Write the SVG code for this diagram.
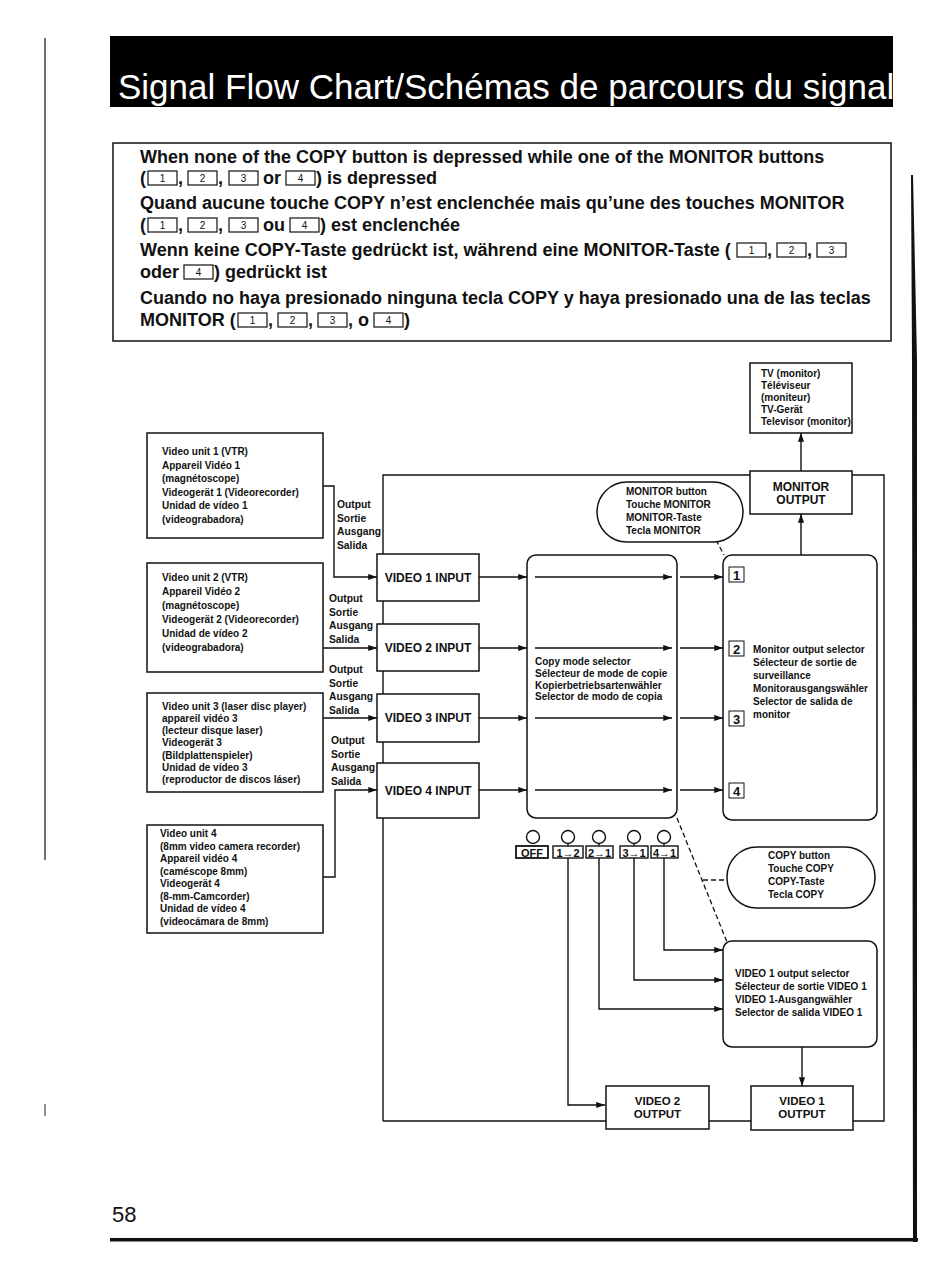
<svg xmlns="http://www.w3.org/2000/svg" width="950" height="1280" viewBox="0 0 950 1280">
<defs>
<marker id="ah" viewBox="0 0 10 8" refX="10" refY="4" markerWidth="9" markerHeight="7" orient="auto" markerUnits="userSpaceOnUse"><path d="M0,0.5 L10,4 L0,7.5 z" fill="#111"/></marker>
<clipPath id="barclip"><rect x="110" y="36" width="783" height="71"/></clipPath>
</defs>
<style>
text { font-family: "Liberation Sans", Arial, Helvetica, sans-serif; fill: #111; }
.hd { font-size: 18px; font-weight: bold; }
.kb { fill: none; stroke: #111; stroke-width: 1.2; }
.kn { font-size: 10px; text-anchor: middle; }
.box { fill: #fff; stroke: #111; stroke-width: 1.5; }
.sm { font-size: 10px; font-weight: bold; }
.lbl { font-size: 10.3px; font-weight: bold; }
.bl { font-size: 12px; font-weight: bold; text-anchor: middle; }
.bo { font-size: 11.5px; font-weight: bold; text-anchor: middle; }
.ln { fill: none; stroke: #111; stroke-width: 1.4; }
.arr { marker-end: url(#ah); }
.dash { fill: none; stroke: #111; stroke-width: 1.3; stroke-dasharray: 5 3; }
.nb { fill: none; stroke: #111; stroke-width: 1; }
.nt { font-size: 13px; font-weight: bold; text-anchor: middle; }
.btn { fill: #fff; stroke: #111; stroke-width: 1.4; }
.bt { font-size: 11px; font-weight: bold; text-anchor: middle; }
</style>
<rect x="0" y="0" width="950" height="1280" fill="#fff"/>

<g id="page">
<line x1="45" y1="38" x2="45" y2="860" stroke="#222" stroke-width="1.3"/>
<line x1="45" y1="1104" x2="45" y2="1116" stroke="#444" stroke-width="1.2"/>
<polygon points="911,175 913,175 917,360 917,1242 913,1242 912,360" fill="#111"/>
<rect x="110" y="1238" width="808" height="3.5" fill="#111"/>
<text x="112" y="1222" font-size="22">58</text>
</g>

<g id="title">
<rect x="110" y="36" width="783" height="71" fill="#000"/>
<text x="118" y="99" font-size="35" clip-path="url(#barclip)" style="fill:#fff">Signal Flow Chart/Schémas de parcours du signal</text>
</g>

<g id="note">
<rect x="113" y="143" width="778" height="198" fill="none" stroke="#111" stroke-width="1.5"/>
<text class="hd" x="140" y="163">When none of the COPY button is depressed while one of the MONITOR buttons</text>
<text class="hd" x="140" y="184">(</text>
<rect class="kb" x="148" y="171" width="29" height="14"/><text class="kn" x="162.5" y="182">1</text>
<text class="hd" x="178" y="184">,</text>
<rect class="kb" x="188" y="171" width="29" height="14"/><text class="kn" x="202.5" y="182">2</text>
<text class="hd" x="218" y="184">,</text>
<rect class="kb" x="229" y="171" width="29" height="14"/><text class="kn" x="243.5" y="182">3</text>
<text class="hd" x="263" y="184">or</text>
<rect class="kb" x="286" y="171" width="29" height="14"/><text class="kn" x="300.5" y="182">4</text>
<text class="hd" x="316" y="184">) is depressed</text>

<text class="hd" x="140" y="209">Quand aucune touche COPY n’est enclenchée mais qu’une des touches MONITOR</text>
<text class="hd" x="140" y="231">(</text>
<rect class="kb" x="148" y="218" width="29" height="14"/><text class="kn" x="162.5" y="229">1</text>
<text class="hd" x="178" y="231">,</text>
<rect class="kb" x="188" y="218" width="29" height="14"/><text class="kn" x="202.5" y="229">2</text>
<text class="hd" x="218" y="231">,</text>
<rect class="kb" x="229" y="218" width="29" height="14"/><text class="kn" x="243.5" y="229">3</text>
<text class="hd" x="263" y="231">ou</text>
<rect class="kb" x="290" y="218" width="29" height="14"/><text class="kn" x="304.5" y="229">4</text>
<text class="hd" x="320" y="231">) est enclenchée</text>

<text class="hd" x="140" y="256">Wenn keine COPY-Taste gedrückt ist, während eine MONITOR-Taste (</text>
<rect class="kb" x="737" y="243" width="29" height="14"/><text class="kn" x="751.5" y="254">1</text>
<text class="hd" x="767" y="256">,</text>
<rect class="kb" x="777" y="243" width="29" height="14"/><text class="kn" x="791.5" y="254">2</text>
<text class="hd" x="807" y="256">,</text>
<rect class="kb" x="817" y="243" width="29" height="14"/><text class="kn" x="831.5" y="254">3</text>
<text class="hd" x="140" y="278">oder</text>
<rect class="kb" x="184" y="265" width="29" height="14"/><text class="kn" x="198.5" y="276">4</text>
<text class="hd" x="214" y="278">) gedrückt ist</text>

<text class="hd" x="140" y="304">Cuando no haya presionado ninguna tecla COPY y haya presionado una de las teclas</text>
<text class="hd" x="140" y="326">MONITOR (</text>
<rect class="kb" x="238" y="313" width="29" height="14"/><text class="kn" x="252.5" y="324">1</text>
<text class="hd" x="268" y="326">,</text>
<rect class="kb" x="278" y="313" width="29" height="14"/><text class="kn" x="292.5" y="324">2</text>
<text class="hd" x="308" y="326">,</text>
<rect class="kb" x="318" y="313" width="29" height="14"/><text class="kn" x="332.5" y="324">3</text>
<text class="hd" x="348" y="326">, o</text>
<rect class="kb" x="374" y="313" width="29" height="14"/><text class="kn" x="388.5" y="324">4</text>
<text class="hd" x="404" y="326">)</text>
</g>

<g id="connectors">
<polyline class="ln" points="383,1121 383,475 884,475 884,1121 383,1121"/>
<polyline class="ln arr" points="323,486 334,486 334,577 377,577"/>
<line class="ln arr" x1="323" y1="648" x2="377" y2="648"/>
<line class="ln arr" x1="323" y1="718" x2="377" y2="718"/>
<polyline class="ln arr" points="323,877 335,877 335,790 377,790"/>
<line class="ln arr" x1="479" y1="577" x2="527" y2="577"/>
<line class="ln arr" x1="479" y1="648" x2="527" y2="648"/>
<line class="ln arr" x1="479" y1="718" x2="527" y2="718"/>
<line class="ln arr" x1="479" y1="790" x2="527" y2="790"/>
<line class="ln arr" x1="535" y1="577" x2="672" y2="577"/>
<line class="ln arr" x1="535" y1="648" x2="672" y2="648"/>
<line class="ln arr" x1="535" y1="718" x2="672" y2="718"/>
<line class="ln arr" x1="535" y1="790" x2="672" y2="790"/>
<line class="ln arr" x1="680" y1="577" x2="723" y2="577"/>
<line class="ln arr" x1="680" y1="648" x2="723" y2="648"/>
<line class="ln arr" x1="680" y1="718" x2="723" y2="718"/>
<line class="ln arr" x1="680" y1="790" x2="723" y2="790"/>
<line class="ln arr" x1="801" y1="555" x2="801" y2="514"/>
<line class="ln arr" x1="801" y1="471" x2="801" y2="433"/>
<polyline class="ln arr" points="568,858 568,1105 605,1105"/>
<polyline class="ln arr" points="599,858 599,1009 723,1009"/>
<polyline class="ln arr" points="634,858 634,980 723,980"/>
<polyline class="ln arr" points="664,858 664,950 723,950"/>
<line class="ln arr" x1="802" y1="1047" x2="802" y2="1086"/>
<line class="dash" x1="677" y1="818" x2="727" y2="942"/>
<line class="dash" x1="703" y1="880" x2="727" y2="880"/>
<line class="dash" x1="716" y1="540" x2="724" y2="555"/>
</g>

<g id="video-unit-1">
<rect class="box" x="147" y="433" width="176" height="105"/>
<text class="sm" x="162" y="455">Video unit 1 (VTR)</text>
<text class="sm" x="162" y="468.5">Appareil Vidéo 1</text>
<text class="sm" x="162" y="482">(magnétoscope)</text>
<text class="sm" x="162" y="495.5">Videogerät 1 (Videorecorder)</text>
<text class="sm" x="162" y="509">Unidad de vídeo 1</text>
<text class="sm" x="162" y="522.5">(videograbadora)</text>
</g>
<g id="video-unit-2">
<rect class="box" x="147" y="563" width="176" height="109"/>
<text class="sm" x="162" y="581">Video unit 2 (VTR)</text>
<text class="sm" x="162" y="595">Appareil Vidéo 2</text>
<text class="sm" x="162" y="609">(magnétoscope)</text>
<text class="sm" x="162" y="623">Videogerät 2 (Videorecorder)</text>
<text class="sm" x="162" y="637">Unidad de vídeo 2</text>
<text class="sm" x="162" y="651">(videograbadora)</text>
</g>
<g id="video-unit-3">
<rect class="box" x="147" y="693" width="176" height="99"/>
<text class="sm" x="162" y="710">Video unit 3 (laser disc player)</text>
<text class="sm" x="162" y="722">appareil vidéo 3</text>
<text class="sm" x="162" y="734">(lecteur disque laser)</text>
<text class="sm" x="162" y="746">Videogerät 3</text>
<text class="sm" x="162" y="759">(Bildplattenspieler)</text>
<text class="sm" x="162" y="771">Unidad de vídeo 3</text>
<text class="sm" x="162" y="783">(reproductor de discos láser)</text>
</g>
<g id="video-unit-4">
<rect class="box" x="147" y="825" width="176" height="108"/>
<text class="sm" x="160" y="837">Video unit 4</text>
<text class="sm" x="160" y="850">(8mm video camera recorder)</text>
<text class="sm" x="160" y="862">Appareil vidéo 4</text>
<text class="sm" x="160" y="875">(caméscope 8mm)</text>
<text class="sm" x="160" y="887">Videogerät 4</text>
<text class="sm" x="160" y="900">(8-mm-Camcorder)</text>
<text class="sm" x="160" y="912">Unidad de vídeo 4</text>
<text class="sm" x="160" y="925">(videocámara de 8mm)</text>
</g>

<g id="output-labels">
<text class="lbl" x="337" y="508">Output</text>
<text class="lbl" x="337" y="521.5">Sortie</text>
<text class="lbl" x="337" y="535">Ausgang</text>
<text class="lbl" x="337" y="548.5">Salida</text>
<text class="lbl" x="329" y="602">Output</text>
<text class="lbl" x="329" y="615.5">Sortie</text>
<text class="lbl" x="329" y="629">Ausgang</text>
<text class="lbl" x="329" y="642.5">Salida</text>
<text class="lbl" x="329" y="673">Output</text>
<text class="lbl" x="329" y="686.5">Sortie</text>
<text class="lbl" x="329" y="700">Ausgang</text>
<text class="lbl" x="329" y="713.5">Salida</text>
<text class="lbl" x="331" y="744">Output</text>
<text class="lbl" x="331" y="757.5">Sortie</text>
<text class="lbl" x="331" y="771">Ausgang</text>
<text class="lbl" x="331" y="784.5">Salida</text>
</g>

<g id="video-1-input"><rect class="box" x="377" y="554" width="102" height="47"/><text class="bl" x="428" y="582">VIDEO 1 INPUT</text></g>
<g id="video-2-input"><rect class="box" x="377" y="624" width="102" height="47"/><text class="bl" x="428" y="652">VIDEO 2 INPUT</text></g>
<g id="video-3-input"><rect class="box" x="377" y="694" width="102" height="48"/><text class="bl" x="428" y="722">VIDEO 3 INPUT</text></g>
<g id="video-4-input"><rect class="box" x="377" y="763" width="102" height="55"/><text class="bl" x="428" y="795">VIDEO 4 INPUT</text></g>

<g id="copy-mode-selector">
<rect x="527" y="555" width="150" height="263" rx="9" fill="none" stroke="#111" stroke-width="1.5"/>
<text class="sm" x="535" y="665">Copy mode selector</text>
<text class="sm" x="535" y="677">Sélecteur de mode de copie</text>
<text class="sm" x="535" y="688.5">Kopierbetriebsartenwähler</text>
<text class="sm" x="535" y="700">Selector de modo de copia</text>
</g>

<g id="monitor-output-selector">
<rect x="723" y="555" width="154" height="265" rx="9" fill="#fff" stroke="#111" stroke-width="1.5"/>
<rect class="nb" x="729" y="567" width="15" height="15"/><text class="nt" x="736.5" y="579.5">1</text>
<rect class="nb" x="729" y="641" width="15" height="15"/><text class="nt" x="736.5" y="653.5">2</text>
<rect class="nb" x="729" y="711" width="15" height="15"/><text class="nt" x="736.5" y="723.5">3</text>
<rect class="nb" x="729" y="783" width="15" height="15"/><text class="nt" x="736.5" y="795.5">4</text>
<text class="sm" x="753" y="653">Monitor output selector</text>
<text class="sm" x="753" y="666">Sélecteur de sortie de</text>
<text class="sm" x="753" y="679">surveillance</text>
<text class="sm" x="753" y="692">Monitorausgangswähler</text>
<text class="sm" x="753" y="705">Selector de salida de</text>
<text class="sm" x="753" y="718">monitor</text>
</g>

<g id="monitor-button">
<rect x="597" y="482" width="146" height="60" rx="30" ry="30" fill="#fff" stroke="#111" stroke-width="1.5"/>
<text class="sm" x="626" y="495">MONITOR button</text>
<text class="sm" x="626" y="508">Touche MONITOR</text>
<text class="sm" x="626" y="521">MONITOR-Taste</text>
<text class="sm" x="626" y="534">Tecla MONITOR</text>
</g>

<g id="monitor-output"><rect class="box" x="750" y="471" width="102" height="43"/><text class="bl" x="801" y="491">MONITOR</text><text class="bl" x="801" y="504">OUTPUT</text></g>

<g id="tv">
<rect class="box" x="750" y="363" width="102" height="70"/>
<text class="sm" x="761" y="377">TV (monitor)</text>
<text class="sm" x="761" y="389">Téléviseur</text>
<text class="sm" x="761" y="401">(moniteur)</text>
<text class="sm" x="761" y="413">TV-Gerät</text>
<text class="sm" x="761" y="425">Televisor (monitor)</text>
</g>

<g id="copy-buttons">
<circle class="btn" cx="533" cy="837" r="6.5"/>
<circle class="btn" cx="568" cy="837" r="6.5"/><line class="ln" x1="568" y1="843.5" x2="568" y2="847"/>
<circle class="btn" cx="599" cy="837" r="6.5"/><line class="ln" x1="599" y1="843.5" x2="599" y2="847"/>
<circle class="btn" cx="634" cy="837" r="6.5"/><line class="ln" x1="634" y1="843.5" x2="634" y2="847"/>
<circle class="btn" cx="664" cy="837" r="6.5"/><line class="ln" x1="664" y1="843.5" x2="664" y2="847"/>
<rect x="516" y="846" width="32" height="12" fill="#fff" stroke="#111" stroke-width="1.8"/><text class="bt" x="532" y="856.5">OFF</text>
<rect class="btn" x="553" y="846" width="30" height="12"/><text class="bt" x="568" y="856.5">1→2</text>
<rect class="btn" x="586" y="846" width="27" height="12"/><text class="bt" x="599.5" y="856.5">2→1</text>
<rect class="btn" x="620" y="846" width="28" height="12"/><text class="bt" x="634" y="856.5">3→1</text>
<rect class="btn" x="651" y="846" width="27" height="12"/><text class="bt" x="664.5" y="856.5">4→1</text>
</g>

<g id="copy-button">
<rect x="727" y="847" width="148" height="61" rx="30" ry="30" fill="#fff" stroke="#111" stroke-width="1.5"/>
<text class="sm" x="768" y="859">COPY button</text>
<text class="sm" x="768" y="872">Touche COPY</text>
<text class="sm" x="768" y="885">COPY-Taste</text>
<text class="sm" x="768" y="898">Tecla COPY</text>
</g>

<g id="video-1-output-selector">
<rect x="723" y="941" width="154" height="106" rx="9" fill="#fff" stroke="#111" stroke-width="1.5"/>
<text class="sm" x="735" y="977">VIDEO 1 output selector</text>
<text class="sm" x="735" y="990">Sélecteur de sortie VIDEO 1</text>
<text class="sm" x="735" y="1003">VIDEO 1-Ausgangwähler</text>
<text class="sm" x="735" y="1016">Selector de salida VIDEO 1</text>
</g>

<g id="video-2-output"><rect class="box" x="606" y="1086" width="103" height="43"/><text class="bo" x="657.5" y="1105">VIDEO 2</text><text class="bo" x="657.5" y="1118">OUTPUT</text></g>
<g id="video-1-output"><rect class="box" x="751" y="1086" width="102" height="44"/><text class="bo" x="802" y="1105">VIDEO 1</text><text class="bo" x="802" y="1118">OUTPUT</text></g>
</svg>
